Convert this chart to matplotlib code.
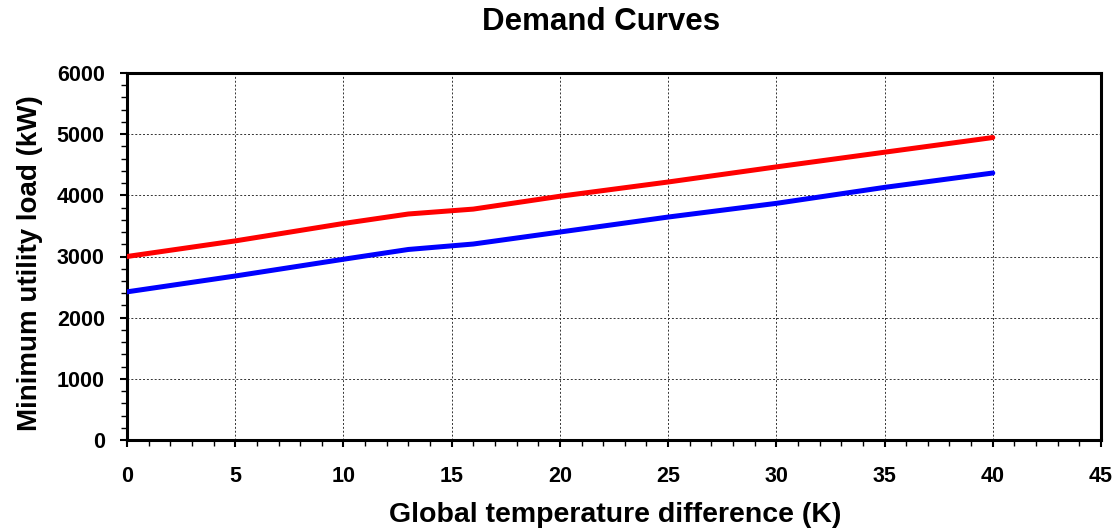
import matplotlib
matplotlib.use("Agg")
import matplotlib.pyplot as plt
from matplotlib.ticker import MultipleLocator

x_vals = [0, 5, 10, 13, 16, 20, 25, 30, 35, 40]
red_load = [3000, 3255, 3540, 3695, 3775, 3985, 4218, 4465, 4705, 4945]
blue_load = [2422, 2681, 2955, 3115, 3204, 3400, 3645, 3869, 4130, 4365]

title = "Demand Curves"
xlabel = "Global temperature difference (K)"
ylabel = "Minimum utility load (kW)"

plt.rcParams['font.family'] = ['Liberation Sans', 'DejaVu Sans']
plt.rcParams['font.weight'] = 'bold'

fig = plt.figure(figsize=(11.19, 5.32), dpi=100)
ax = fig.add_axes([127/1119, 1-440/532, (1101-127)/1119, (440-73)/532])

ax.plot(x_vals, red_load, color='#ff0000', lw=3.6, solid_capstyle='round', solid_joinstyle='round', zorder=3)
ax.plot(x_vals, blue_load, color='#0000ff', lw=3.6, solid_capstyle='round', solid_joinstyle='round', zorder=3)

ax.set_xlim(0, 45)
ax.set_ylim(0, 6000)
ax.xaxis.set_major_locator(MultipleLocator(5))
ax.xaxis.set_minor_locator(MultipleLocator(1))
ax.yaxis.set_major_locator(MultipleLocator(1000))
ax.yaxis.set_minor_locator(MultipleLocator(200))

ax.grid(True, which='major', color='#333333', linestyle=(0, (2, 2)), linewidth=0.7)
for s in ax.spines.values():
    s.set_linewidth(2.2)
    s.set_color('black')
ax.tick_params(which='major', direction='out', length=5, width=1.5, labelsize=15.5, pad=11)
ax.tick_params(axis='x', which='major', pad=14)
ax.tick_params(which='minor', direction='out', length=4, width=1.0)
for lab in ax.get_xticklabels() + ax.get_yticklabels():
    lab.set_fontweight('bold')

fig.text(601/1119, 1-22/532, title, ha='center', va='center', fontsize=22.5, fontweight='bold')
fig.text(615/1119, 1-515/532, xlabel, ha='center', va='center', fontsize=20.5, fontweight='bold')
fig.text(30/1119, 1-263/532, ylabel, ha='center', va='center', rotation=90, fontsize=20, fontweight='bold')

fig.savefig("out.png", dpi=100)
